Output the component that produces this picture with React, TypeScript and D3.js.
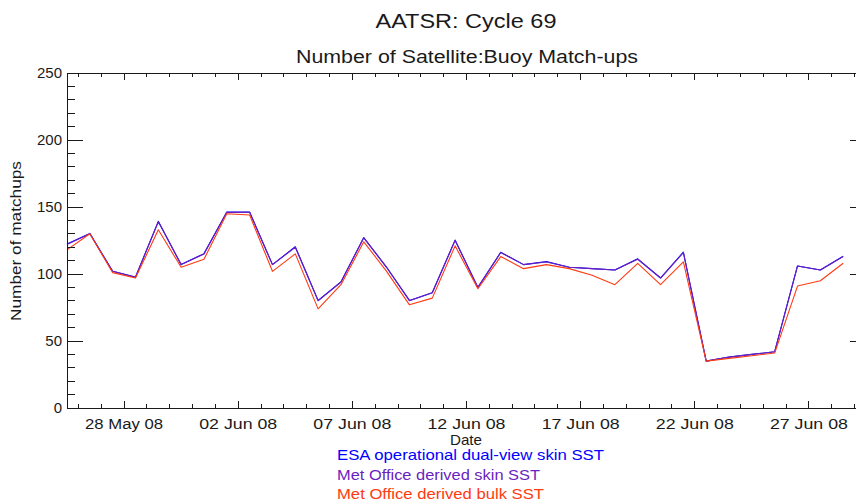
import React from 'react'
import * as d3 from 'd3'

// Chart data (one value per day, plotted at noon)
const days = [
    '2008-05-25', '2008-05-26', '2008-05-27', '2008-05-28', '2008-05-29', '2008-05-30', '2008-05-31',
    '2008-06-01', '2008-06-02', '2008-06-03', '2008-06-04', '2008-06-05', '2008-06-06', '2008-06-07',
    '2008-06-08', '2008-06-09', '2008-06-10', '2008-06-11', '2008-06-12', '2008-06-13', '2008-06-14',
    '2008-06-15', '2008-06-16', '2008-06-17', '2008-06-18', '2008-06-19', '2008-06-20', '2008-06-21',
    '2008-06-22', '2008-06-23', '2008-06-24', '2008-06-25', '2008-06-26', '2008-06-27', '2008-06-28',
]

const esaSkin = [
    122.3, 130.3, 102, 97.7, 139.3, 107, 115.2, 146.3, 146.3, 107, 120.3, 80.3, 94, 127.2, 105, 80.3, 86,
    125.3, 90, 116.2, 107, 109.3, 105, 104, 103, 111.3, 97, 116.3, 35, 38, 40, 42, 106, 103, 113.3,
]
const metSkin = [
    122, 130, 102, 97.5, 139, 107, 115, 146, 146, 107, 120, 80, 94, 127, 105, 80, 86,
    125, 90, 116, 107, 109, 105, 104, 103, 111, 97, 116, 35, 38, 40, 42, 106, 103, 113,
]
const metBulk = [
    118, 130, 101, 97, 133, 105, 111, 145, 144, 102, 115, 74, 92, 124, 102, 77, 82,
    121, 89, 113, 104, 107, 104, 99, 92, 108, 92, 109, 35, 37, 39, 41, 91, 95, 108,
]

const tickDates = ['2008-05-28', '2008-06-02', '2008-06-07', '2008-06-12', '2008-06-17', '2008-06-22', '2008-06-27']
const tickLabels = ['28 May 08', '02 Jun 08', '07 Jun 08', '12 Jun 08', '17 Jun 08', '22 Jun 08', '27 Jun 08']

const seriesNames = ['ESA operational dual-view skin SST', 'Met Office derived skin SST', 'Met Office derived bulk SST']
const seriesColors = ['#0000ff', '#6a1fc0', '#ff3a10']
const seriesWidths = [267, 203, 207]

const FONT = 'Liberation Sans, Arial, sans-serif'
const INK = '#1a1a1a'

function noon(s: string) {
    return new Date(s + 'T12:00:00Z')
}

function App() {
    const width = 856
    const height = 502
    const plot = { left: 67, right: 866, top: 73, bottom: 408 }

    const x = d3.scaleUtc()
        .domain([noon(days[0]), d3.utcDay.offset(noon(days[days.length - 1]), 1)])
        .range([plot.left, plot.right])
    const y = d3.scaleLinear().domain([0, 250]).range([plot.bottom, plot.top])

    const plotW = plot.right - plot.left
    const plotH = plot.bottom - plot.top
    const yMajorLen = 0.02 * plotW
    const xMajorLen = 0.02 * plotH

    const minorDays = d3.utcDay.range(x.domain()[0], x.domain()[1])
    const majorDays = tickDates.map(d => new Date(d + 'T00:00:00Z'))
    const yMajor = d3.range(0, 251, 50)
    const yMinor = d3.range(0, 251, 10).filter(v => v % 50 !== 0)

    const line = d3.line<number>()
        .x((_, i) => x(noon(days[i])))
        .y(v => y(v))

    const series = [esaSkin, metSkin, metBulk]

    return (
        <svg width={width} height={height} style={{ position: 'absolute', left: 0, top: 0, background: '#fff' }}
            fontFamily={FONT}>
            <rect width={width} height={height} fill="#fff" />

            <text x={466} y={28} fontSize={20} textAnchor="middle" fill={INK}
                textLength={181} lengthAdjust="spacingAndGlyphs">AATSR: Cycle 69</text>
            <text x={467} y={63} fontSize={17.5} textAnchor="middle" fill={INK}
                textLength={342} lengthAdjust="spacingAndGlyphs">Number of Satellite:Buoy Match-ups</text>

            {/* data lines */}
            <g fill="none" strokeWidth={1.1} strokeLinejoin="round">
                {series.map((s, i) => (
                    <path key={i} d={line(s) || ''} stroke={seriesColors[i]} />
                ))}
            </g>

            {/* frame and ticks */}
            <g stroke={INK} strokeWidth={1} shapeRendering="crispEdges">
                <rect x={plot.left} y={plot.top} width={plotW} height={plotH} fill="none" />
                {yMajor.map(v => (
                    <g key={'ym' + v}>
                        <line x1={plot.left} x2={plot.left + yMajorLen} y1={y(v)} y2={y(v)} />
                        <line x1={plot.right} x2={plot.right - yMajorLen} y1={y(v)} y2={y(v)} />
                    </g>
                ))}
                {yMinor.map(v => (
                    <g key={'yn' + v}>
                        <line x1={plot.left} x2={plot.left + yMajorLen / 2} y1={y(v)} y2={y(v)} />
                        <line x1={plot.right} x2={plot.right - yMajorLen / 2} y1={y(v)} y2={y(v)} />
                    </g>
                ))}
                {minorDays.map((d, i) => (
                    <g key={'xn' + i}>
                        <line x1={x(d)} x2={x(d)} y1={plot.bottom} y2={plot.bottom - xMajorLen / 2 - 0.6} />
                        <line x1={x(d)} x2={x(d)} y1={plot.top} y2={plot.top + xMajorLen / 2 + 0.6} />
                    </g>
                ))}
                {majorDays.map((d, i) => (
                    <g key={'xm' + i}>
                        <line x1={x(d)} x2={x(d)} y1={plot.bottom} y2={plot.bottom - xMajorLen} />
                        <line x1={x(d)} x2={x(d)} y1={plot.top} y2={plot.top + xMajorLen} />
                    </g>
                ))}
            </g>

            {/* y tick labels */}
            <g fontSize={15} fill={INK} textAnchor="end">
                {yMajor.map(v => (
                    <text key={v} x={62} y={y(v) + 5}>{v}</text>
                ))}
            </g>
            <text transform="translate(21,241) rotate(-90)" fontSize={15} textAnchor="middle" fill={INK}
                textLength={160} lengthAdjust="spacingAndGlyphs">Number of matchups</text>

            {/* x tick labels */}
            <g fontSize={15.5} fill={INK} textAnchor="middle">
                {majorDays.map((d, i) => (
                    <text key={i} x={x(d)} y={429} textLength={78} lengthAdjust="spacingAndGlyphs">{tickLabels[i]}</text>
                ))}
            </g>
            <text x={466} y={445} fontSize={15} textAnchor="middle" fill={INK}
                textLength={32} lengthAdjust="spacingAndGlyphs">Date</text>

            {/* legend */}
            <g fontSize={14.5}>
                {seriesNames.map((n, i) => (
                    <text key={n} x={337} y={460 + i * 19.5} fill={seriesColors[i]}
                        textLength={seriesWidths[i]} lengthAdjust="spacingAndGlyphs">{n}</text>
                ))}
            </g>
        </svg>
    )
}

export default App
